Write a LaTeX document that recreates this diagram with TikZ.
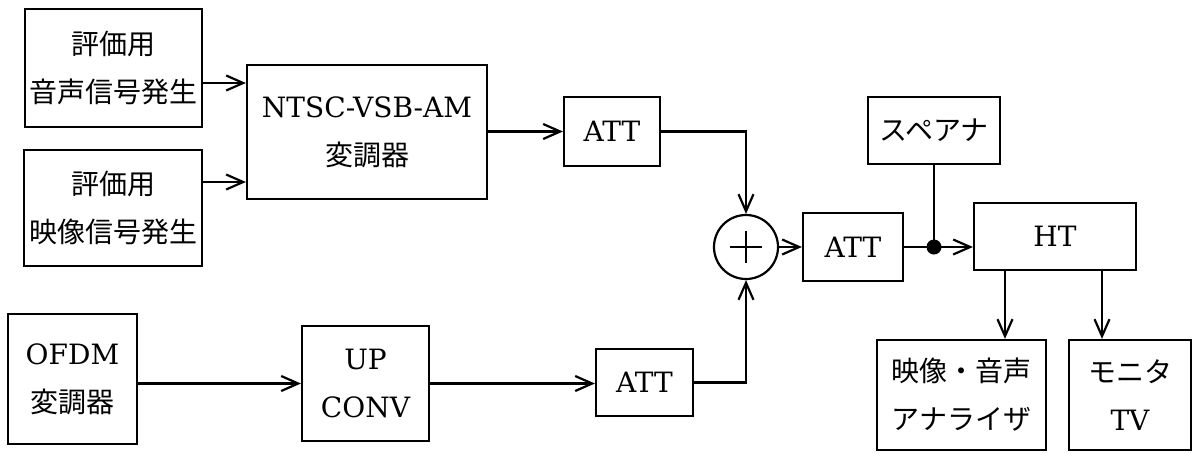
\documentclass[tikz,border=0pt]{standalone}
\usepackage{fontspec}
\setmainfont{DejaVu Serif}
\newfontfamily\jp{Noto Sans CJK JP}
\usepackage{tikz}
\usetikzlibrary{arrows.meta, positioning, calc}

\begin{document}
\begin{tikzpicture}[x=1pt, y=-1pt,
  blk/.style={draw, line width=2.2pt, inner sep=2pt, align=center, font=\fontsize{28}{48}\selectfont},
  arr/.style={line width=2.2pt, -{Straight Barb[length=17pt,width=15pt]}},
  ln/.style={line width=2.2pt}]
  \useasboundingbox (0,0) rectangle (1197,453);
  % signal sources
  \node[blk, minimum width=177pt, minimum height=118pt] (sndgen) at (113.5,68) {\jp 評価用\\\jp 音声信号発生};
  \node[blk, minimum width=178pt, minimum height=116pt] (vidgen) at (113,208) {\jp 評価用\\\jp 映像信号発生};
  \node[blk, minimum width=240pt, minimum height=134pt] (ntsc) at (367,132) {NTSC-VSB-AM\\{\jp 変調器}};
  \node[blk, minimum width=129pt, minimum height=130pt] (ofdm) at (72.5,379) {OFDM\\{\jp 変調器}};
  \node[blk, minimum width=127pt, minimum height=115pt] (upc) at (365.5,383.5) {UP\\CONV};
  % attenuators and sum
  \node[blk, minimum width=96pt, minimum height=69pt] (att1) at (612,131.5) {ATT};
  \node[blk, minimum width=97pt, minimum height=67pt] (att3) at (644.5,382.5) {ATT};
  \node[draw, circle, line width=2.2pt, minimum size=64pt, inner sep=0pt] (sum) at (746,247) {};
  \draw[ln] ([xshift=-16pt]sum.center) -- ([xshift=16pt]sum.center);
  \draw[ln] ([yshift=-16pt]sum.center) -- ([yshift=16pt]sum.center);
  \node[blk, minimum width=100pt, minimum height=68pt] (att2) at (853,247) {ATT};
  % measurement side
  \node[blk, minimum width=132pt, minimum height=67pt] (spe) at (934,130.5) {\jp スペアナ};
  \node[circle, fill, inner sep=0pt, minimum size=15pt] (tap) at (934,247) {};
  \node[blk, minimum width=162pt, minimum height=67pt] (ht) at (1055,236.5) {HT};
  \node[blk, minimum width=169pt, minimum height=110pt] (ana) at (961.5,395) {\jp 映像・音声\\\jp アナライザ};
  \node[blk, minimum width=122pt, minimum height=110pt] (mon) at (1130,395) {{\jp モニタ}\\TV};

  \draw[arr] ([yshift=-15pt]sndgen.east) -- ([yshift=-15pt]sndgen.east -| ntsc.west);
  \draw[arr] ([yshift=26pt]vidgen.east) -- ([yshift=26pt]vidgen.east -| ntsc.west);
  \draw[arr] (ntsc.east |- att1.west) -- (att1.west);
  \draw[arr] (att1.east) -| (sum.north);
  \draw[arr] (upc.west -| ofdm.east) -- (upc.west);
  \draw[arr] (upc.east) -- (upc.east -| att3.west);
  \draw[arr] (att3.east) -| (sum.south);
  \draw[arr] (sum.east) -- (sum.east -| att2.west);
  \draw[ln] (att2.east) -- (tap.center);
  \draw[ln] (spe.south) -- (tap.center);
  \draw[arr] (tap.center) -- (tap.center -| ht.west);
  \draw[arr] ([xshift=-50pt]ht.south) -- ([xshift=-50pt]ht.south |- ana.north);
  \draw[arr] ([xshift=47pt]ht.south) -- ([xshift=47pt]ht.south |- mon.north);
\end{tikzpicture}
\end{document}
